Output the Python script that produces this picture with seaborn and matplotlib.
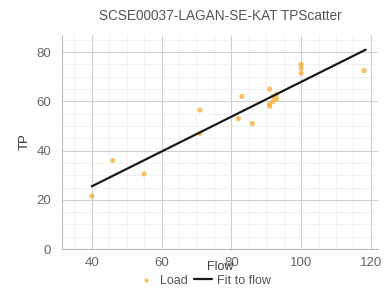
import numpy as np
import pandas as pd
import matplotlib
matplotlib.use("Agg")
import matplotlib.pyplot as plt
import seaborn as sns
from matplotlib.ticker import AutoMinorLocator

sns.set_theme(style="whitegrid")
plt.rcParams['font.family'] = ['Liberation Sans', 'DejaVu Sans']

# dados
flow = [40, 46, 55, 71, 71, 82, 83, 86, 91, 91, 91, 92, 92, 93, 93, 100, 100, 100, 118]
tp = [21.5, 36, 30.5, 56.5, 47, 53, 62, 51, 65, 59, 58, 62, 60, 63, 61, 71.5, 73.5, 75, 72.5]
fit_flow = [40, 118.5]
fit_tp = [25.5, 81]

dados = pd.DataFrame({'Flow': flow, 'TP': tp})
fit = pd.DataFrame({'Flow': fit_flow, 'TP': fit_tp})

fig = plt.figure(figsize=(3.86, 2.91), dpi=100)
ax = fig.add_axes([0.161, 0.144, 0.818, 0.736])

sns.scatterplot(data=dados, x='Flow', y='TP', ax=ax, color='#f5a623', alpha=0.7,
                s=14, edgecolor='none', label='Load')
sns.lineplot(data=fit, x='Flow', y='TP', ax=ax, color='#1a1a1a', linewidth=1.6,
             label='Fit to flow')

ax.set_xlim(31.5, 122)
ax.set_ylim(0, 87)
ax.set_xticks([40, 60, 80, 100, 120])
ax.set_yticks([0, 20, 40, 60, 80])
ax.xaxis.set_minor_locator(AutoMinorLocator(4))
ax.yaxis.set_minor_locator(AutoMinorLocator(4))
ax.grid(True, which='major', color='#d0d0d0', linewidth=0.8)
ax.grid(True, which='minor', color='#ececec', linewidth=0.5)
ax.tick_params(axis='both', which='both', labelsize=9.5, colors='#666666', length=0)
ax.tick_params(axis='x', pad=6)
ax.tick_params(axis='y', pad=8)
for s in ['top', 'right']:
    ax.spines[s].set_visible(False)
for s in ['left', 'bottom']:
    ax.spines[s].set_color('#bbbbbb')
    ax.spines[s].set_linewidth(0.8)

ax.set_title('SCSE00037-LAGAN-SE-KAT TPScatter', fontsize=9.8, color='#555555', pad=11)
ax.set_xlabel('Flow', fontsize=9, color='#444444', labelpad=-6)
ax.set_ylabel('TP', fontsize=9.5, color='#333333', labelpad=4)

ax.legend(loc='center', bbox_to_anchor=(0.45, -0.148), ncol=2, frameon=False,
          fontsize=9, handlelength=1.4, columnspacing=0.5, handletextpad=0.4,
          labelcolor='#555555', markerscale=0.8, borderpad=0)

plt.savefig('out.png', dpi=100)
